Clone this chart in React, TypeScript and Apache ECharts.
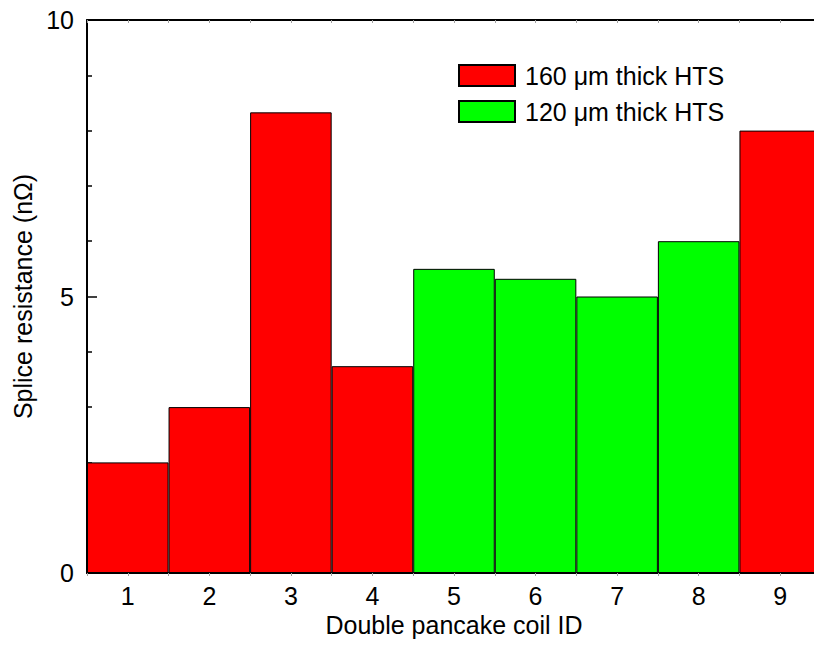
import React, { useEffect, useRef } from "react";
import * as echarts from "echarts";

const categories = ["1", "2", "3", "4", "5", "6", "7", "8", "9"];
const thick160 = [2.0, 3.0, 8.33, 3.74, null, null, null, null, 8.0];
const thick120 = [null, null, null, null, 5.5, 5.32, 5.0, 6.0, null];
const seriesNames = ["160 μm thick HTS", "120 μm thick HTS"];
const yTicks = { min: 0, max: 10, interval: 5 };

const FONT = "'Liberation Sans', Arial, sans-serif";

export default function App() {
  const ref = useRef<HTMLDivElement>(null);
  useEffect(() => {
    if (!ref.current) return;
    const chart = echarts.init(ref.current, undefined, { renderer: "svg" });
    const thinTick = { show: true, lineStyle: { color: "#a0a0a0", width: 1 } };
    chart.setOption({
      animation: false,
      backgroundColor: "#ffffff",
      textStyle: { fontFamily: FONT },
      grid: { left: 87, right: 0, top: 20, bottom: 73, containLabel: false },
      legend: {
        orient: "vertical",
        left: 458,
        top: 63,
        padding: 0,
        itemWidth: 56,
        itemHeight: 21,
        itemGap: 11,
        icon: "rect",
        selectedMode: false,
        textStyle: { fontSize: 25, color: "#000", fontFamily: FONT, padding: [0, 0, 0, 5] },
        data: seriesNames,
      },
      xAxis: [
        {
          type: "category",
          data: categories,
          position: "bottom",
          axisLine: { show: true, onZero: false, lineStyle: { color: "#000", width: 2 } },
          axisTick: { ...thinTick, length: 3, inside: false },
          axisLabel: { fontSize: 25, color: "#000", margin: 10, fontFamily: FONT },
          name: "Double pancake coil ID",
          nameLocation: "middle",
          nameGap: 39,
          nameTextStyle: { fontSize: 25, color: "#000", fontFamily: FONT },
          splitLine: { show: false },
        },
        {
          type: "category",
          data: categories,
          position: "bottom",
          axisLine: { show: false, onZero: false },
          axisTick: { ...thinTick, length: 3, inside: false, alignWithLabel: true },
          axisLabel: { show: false },
          splitLine: { show: false },
        },
        {
          type: "category",
          data: categories,
          position: "top",
          axisLine: { show: true, onZero: false, lineStyle: { color: "#000", width: 2 } },
          axisTick: { ...thinTick, length: 3, inside: true },
          axisLabel: { show: false },
          splitLine: { show: false },
        },
        {
          type: "category",
          data: categories,
          position: "top",
          axisLine: { show: false, onZero: false },
          axisTick: { ...thinTick, length: 3, inside: true, alignWithLabel: true },
          axisLabel: { show: false },
          splitLine: { show: false },
        },
      ],
      yAxis: {
        type: "value",
        min: yTicks.min,
        max: yTicks.max,
        interval: yTicks.interval,
        axisLine: { show: true, onZero: false, lineStyle: { color: "#000", width: 2 } },
        axisTick: { show: true, inside: true, length: 10, lineStyle: { color: "#000", width: 1.5 } },
        minorTick: { show: true, splitNumber: 5, length: 5, lineStyle: { color: "#000", width: 1.5 } },
        axisLabel: { fontSize: 25, color: "#000", margin: 13, fontFamily: FONT },
        splitLine: { show: false },
        name: "Splice resistance (nΩ)",
        nameLocation: "middle",
        nameGap: 52,
        nameTextStyle: { fontSize: 25, color: "#000", fontFamily: FONT },
      },
      series: [
        {
          name: seriesNames[0],
          type: "bar",
          stack: "s",
          xAxisIndex: 0,
          data: thick160,
          barCategoryGap: 0,
          barWidth: "100%",
          itemStyle: { color: "#ff0000", borderColor: "#000", borderWidth: 1 },
        },
        {
          name: seriesNames[1],
          type: "bar",
          stack: "s",
          xAxisIndex: 0,
          data: thick120,
          barCategoryGap: 0,
          barWidth: "100%",
          itemStyle: { color: "#00ff00", borderColor: "#000", borderWidth: 1 },
        },
      ],
    });
    return () => chart.dispose();
  }, []);
  return (
    <div
      style={{ position: "fixed", left: 0, top: 0, width: 814, height: 646, overflow: "hidden", background: "#fff" }}
    >
      <div ref={ref} style={{ width: 821, height: 646 }} />
    </div>
  );
}
